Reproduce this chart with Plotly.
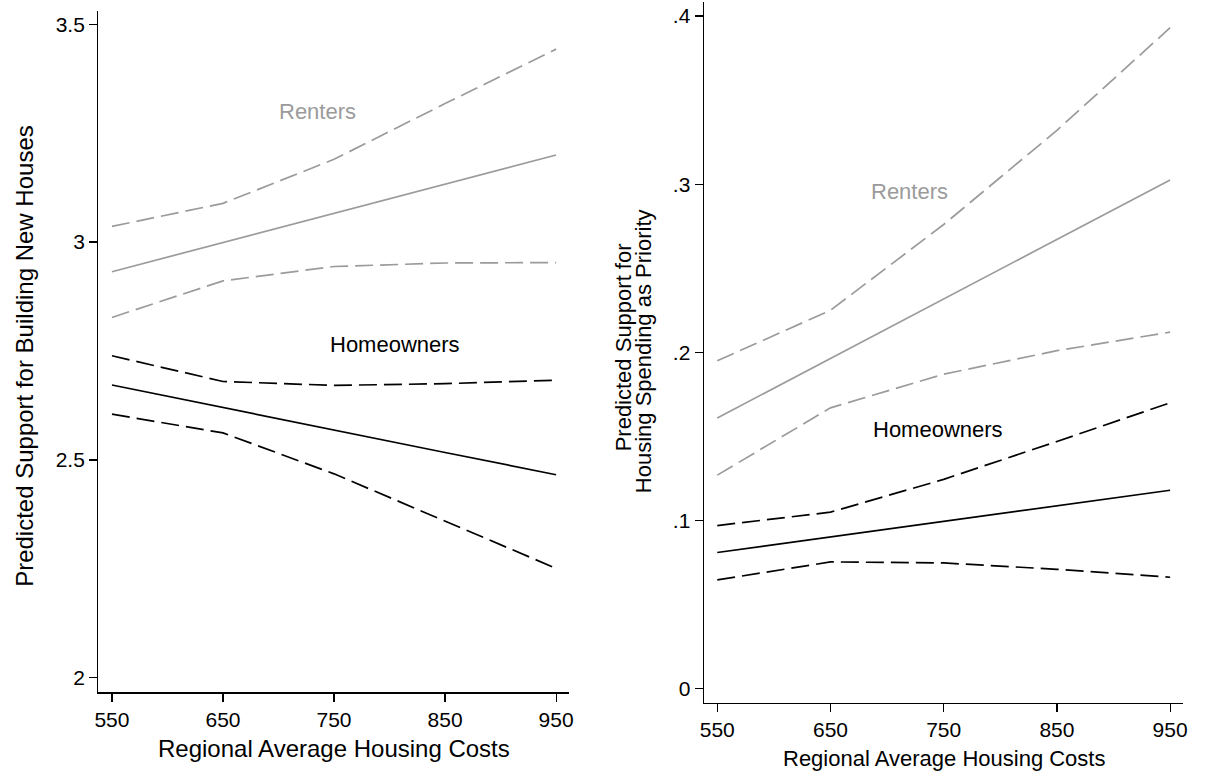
import plotly.graph_objects as go

# ---------------- data ----------------
x_costs = [550, 650, 750, 850, 950]

# Left panel: Predicted Support for Building New Houses
build_renters_mean = [2.932, 2.999, 3.066, 3.133, 3.200]
build_renters_hi = [3.036, 3.089, 3.190, 3.318, 3.443]
build_renters_lo = [2.827, 2.911, 2.944, 2.952, 2.953]
build_owners_mean = [2.672, 2.620, 2.569, 2.517, 2.466]
build_owners_hi = [2.739, 2.680, 2.671, 2.675, 2.683]
build_owners_lo = [2.605, 2.562, 2.468, 2.359, 2.251]

# Right panel: Predicted Support for Housing Spending as Priority
spend_renters_mean = [0.161, 0.1964, 0.2318, 0.2671, 0.3025]
spend_renters_hi = [0.195, 0.225, 0.276, 0.332, 0.393]
spend_renters_lo = [0.127, 0.167, 0.187, 0.201, 0.212]
spend_owners_mean = [0.081, 0.0903, 0.0995, 0.1088, 0.118]
spend_owners_hi = [0.097, 0.105, 0.1245, 0.147, 0.170]
spend_owners_lo = [0.0647, 0.0754, 0.0748, 0.071, 0.0663]

left_yticks = [2, 2.5, 3, 3.5]
left_yticklabels = ["2", "2.5", "3", "3.5"]
right_yticks = [0, 0.1, 0.2, 0.3, 0.4]
right_yticklabels = ["0", ".1", ".2", ".3", ".4"]

# ---------------- style ----------------
GRAY = "#9b9b9b"
BLACK = "#000000"
FONT = "Liberation Sans, Arial, Helvetica, sans-serif"
DASH = "18px,7px"
W = 1207
H = 775

fig = go.Figure()


def add_series(ys, color, dash, xa, ya):
    fig.add_trace(go.Scatter(
        x=x_costs, y=ys, mode="lines", xaxis=xa, yaxis=ya,
        line=dict(color=color, width=1.7, dash=dash),
        showlegend=False, hoverinfo="skip"))


for ys, c, d in [
    (build_renters_hi, GRAY, DASH), (build_renters_mean, GRAY, "solid"), (build_renters_lo, GRAY, DASH),
    (build_owners_hi, BLACK, DASH), (build_owners_mean, BLACK, "solid"), (build_owners_lo, BLACK, DASH),
]:
    add_series(ys, c, d, "x", "y")

for ys, c, d in [
    (spend_renters_hi, GRAY, DASH), (spend_renters_mean, GRAY, "solid"), (spend_renters_lo, GRAY, DASH),
    (spend_owners_hi, BLACK, DASH), (spend_owners_mean, BLACK, "solid"), (spend_owners_lo, BLACK, DASH),
]:
    add_series(ys, c, d, "x2", "y2")

axis_common = dict(
    showgrid=False, zeroline=False, showline=True, linecolor="black", linewidth=1.2,
    ticks="outside", ticklen=8, tickwidth=1.2, tickcolor="black",
    tickfont=dict(family=FONT, size=21, color="black"), mirror=False,
)

fig.update_layout(
    width=W, height=H,
    margin=dict(l=0, r=0, t=0, b=0),
    paper_bgcolor="white", plot_bgcolor="white",
    font=dict(family=FONT, color="black"),
    xaxis=dict(domain=[95 / W, 569 / W], range=[537.7, 961.4],
               tickvals=x_costs, ticktext=[str(v) for v in x_costs], anchor="y", **axis_common),
    yaxis=dict(domain=[1 - 692.3 / H, 1 - 11 / H], range=[1.9665, 3.5305],
               tickvals=left_yticks, ticktext=left_yticklabels, anchor="x", **axis_common),
    xaxis2=dict(domain=[705 / W, 1188 / W], range=[538.05, 961.5],
                tickvals=x_costs, ticktext=[str(v) for v in x_costs], anchor="y2", **axis_common),
    yaxis2=dict(domain=[1 - 702.7 / H, 1 - 2 / H], range=[-0.0083, 0.4083],
                tickvals=right_yticks, ticktext=right_yticklabels, anchor="x2", **axis_common),
)

annotations = [
    # in-plot labels
    dict(x=735, y=3.30, xref="x", yref="y", text="Renters", showarrow=False,
         font=dict(family=FONT, size=22, color=GRAY)),
    dict(x=805, y=2.764, xref="x", yref="y", text="Homeowners", showarrow=False,
         font=dict(family=FONT, size=22, color=BLACK)),
    dict(x=719.4, y=0.2955, xref="x2", yref="y2", text="Renters", showarrow=False,
         font=dict(family=FONT, size=22, color=GRAY)),
    dict(x=745.3, y=0.154, xref="x2", yref="y2", text="Homeowners", showarrow=False,
         font=dict(family=FONT, size=22, color=BLACK)),
    # axis titles
    dict(x=332.7 / W, y=1 - 748 / H, xref="paper", yref="paper", text="Regional Average Housing Costs",
         showarrow=False, font=dict(family=FONT, size=24, color="black"), xanchor="center", yanchor="middle"),
    dict(x=947 / W, y=1 - 758 / H, xref="paper", yref="paper", text="Regional Average Housing Costs",
         showarrow=False, font=dict(family=FONT, size=22, color="black"), xanchor="center", yanchor="middle"),
    dict(x=20 / W, y=1 - 356 / H, xref="paper", yref="paper", text="Predicted Support for Building New Houses",
         showarrow=False, textangle=-90, font=dict(family=FONT, size=24, color="black"),
         xanchor="center", yanchor="middle"),
    dict(x=624 / W, y=1 - 347 / H, xref="paper", yref="paper",
         text="Predicted Support for",
         showarrow=False, textangle=-90, font=dict(family=FONT, size=22, color="black"),
         xanchor="center", yanchor="middle"),
    dict(x=644 / W, y=1 - 351 / H, xref="paper", yref="paper",
         text="Housing Spending as Priority",
         showarrow=False, textangle=-90, font=dict(family=FONT, size=22, color="black"),
         xanchor="center", yanchor="middle"),
]
fig.update_layout(annotations=annotations)

fig.write_html(
    "out.html",
    config={"displayModeBar": False, "staticPlot": True},
    post_script="document.body.style.margin='0';document.body.style.overflow='hidden';",
)
